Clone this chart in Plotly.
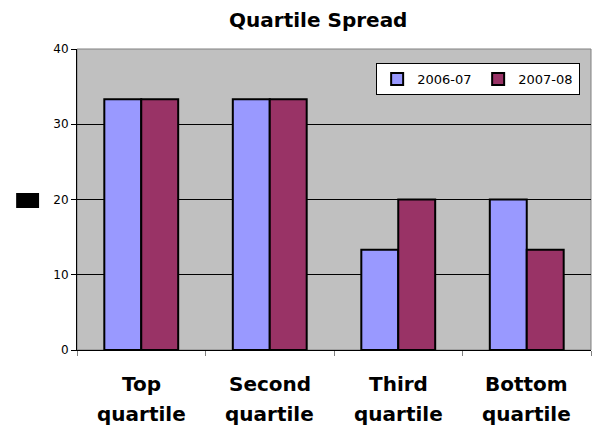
import plotly.graph_objects as go

categories = ["Top quartile", "Second quartile", "Third quartile", "Bottom quartile"]
series_names = ["2006-07", "2007-08"]
values_2006 = [33.33, 33.33, 13.33, 20.0]
values_2007 = [33.33, 33.33, 20.0, 13.33]
series_colors = ["#9999FF", "#993366"]
y_ticks = [0, 10, 20, 30, 40]

fig = go.Figure()
for name, vals, col in zip(series_names, [values_2006, values_2007], series_colors):
    fig.add_trace(go.Bar(
        x=categories, y=vals, name=name,
        marker=dict(color=col, line=dict(color="#000000", width=2)),
    ))

fig.update_layout(
    width=596, height=427,
    margin=dict(l=77, r=5, t=49, b=77),
    paper_bgcolor="#FFFFFF",
    plot_bgcolor="#C0C0C0",
    barmode="group",
    bargap=0.425,
    bargroupgap=0,
    title=dict(text="<b>Quartile Spread</b>", x=0.534, xanchor="center", y=0.952, yanchor="middle",
               font=dict(family="DejaVu Sans", size=20, color="#000000")),
    font=dict(family="DejaVu Sans", color="#000000"),
    legend=dict(orientation="h", x=0.582, y=0.953, xanchor="left", yanchor="top",
                bgcolor="#FFFFFF", bordercolor="#000000", borderwidth=1,
                font=dict(family="DejaVu Sans", size=13, color="#000000"),
                itemwidth=30, entrywidth=56, traceorder="normal"),
    showlegend=True,
)

fig.update_xaxes(
    type="category", tickson="boundaries", ticks="outside", ticklen=5, tickcolor="#808080",
    showline=True, linecolor="#000000", linewidth=1, showgrid=False,
    showticklabels=False,
)
fig.update_yaxes(
    range=[0, 40], tickvals=y_ticks, ticks="outside", ticklen=5, tickcolor="#000000",
    showline=True, linecolor="#000000", linewidth=1,
    showgrid=True, gridcolor="#000000", gridwidth=1, zeroline=False,
    tickfont=dict(family="DejaVu Sans", size=12, color="#000000"),
)

# two-line bold category labels, one annotation per line
for cat in categories:
    first, second = cat.split(" ", 1)
    for word, ypos in ((first, -0.113), (second, -0.212)):
        fig.add_annotation(x=cat, xref="x", y=ypos, yref="paper", text=f"<b>{word}</b>",
                           showarrow=False, xanchor="center", yanchor="middle",
                           font=dict(family="DejaVu Sans", size=20, color="#000000"))

# grey border around the plot area (top and right edges)
fig.add_shape(type="rect", xref="paper", yref="paper", x0=0, x1=1, y0=0, y1=1,
              line=dict(color="#808080", width=1), layer="below")
# filled block used as the value-axis title
fig.add_shape(type="rect", xref="paper", yref="paper", x0=-0.1184, x1=-0.0738, y0=0.4718, y1=0.5216,
              line=dict(width=0), fillcolor="#000000")

fig.write_html("out.html")
